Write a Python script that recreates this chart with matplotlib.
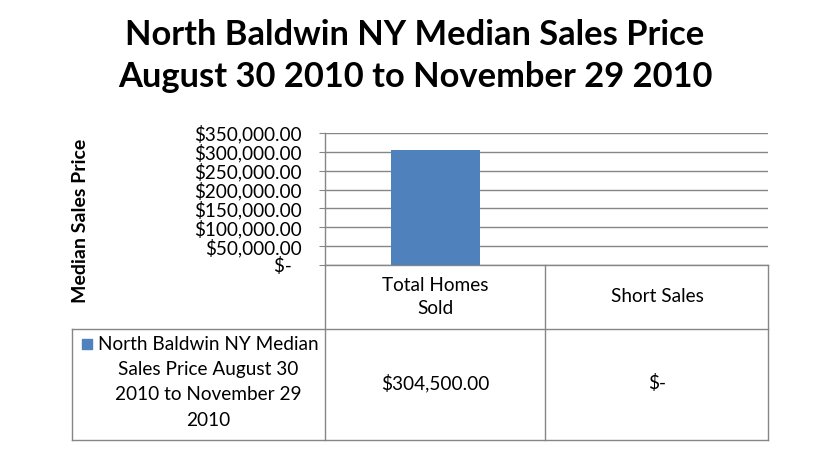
import numpy as np
import matplotlib.pyplot as plt
from matplotlib.ticker import FuncFormatter

plt.rcParams['font.family'] = ['Lato', 'DejaVu Sans']

title = "North Baldwin NY Median Sales Price\nAugust 30 2010 to November 29 2010"
series_name = ["North Baldwin NY Median", "Sales Price August 30", "2010 to November 29", "2010"]
categories = ["Total Homes\nSold", "Short Sales"]
values = [304500.0, 0.0]
y_ticks = [0, 50000, 100000, 150000, 200000, 250000, 300000, 350000]

W, H = 830, 451
grid_col = "#868686"
bar_col = "#4F81BD"
fs = 13.7


def money(v):
    if v == 0:
        return "$-  "
    return "${:,.2f}".format(v)


fig = plt.figure(figsize=(W / 100, H / 100), dpi=100)
fig.patch.set_facecolor("white")

# canvas in pixel coordinates for titles and the data table
bg = fig.add_axes([0, 0, 1, 1], zorder=0)
bg.set_xlim(0, W)
bg.set_ylim(H, 0)
bg.axis("off")

# table lines
lw = 1.0
bg.plot([72, 768], [329, 329], color=grid_col, lw=lw)
bg.plot([72, 768], [440, 440], color=grid_col, lw=lw)
bg.plot([72, 72], [329, 440], color=grid_col, lw=lw)
bg.plot([325, 325], [265, 440], color=grid_col, lw=lw)
bg.plot([545, 545], [265, 440], color=grid_col, lw=lw)
bg.plot([768, 768], [265, 440], color=grid_col, lw=lw)

# title and axis title
bg.text(415, 56, title, ha="center", va="center", fontsize=24.8, fontweight="bold",
        linespacing=1.38)
bg.text(80, 221, "Median Sales Price", rotation=90, ha="center", va="center",
        fontsize=14, fontweight="bold")

# table contents
col_x = [435, 657]
for cx, cat, v in zip(col_x, categories, values):
    bg.text(cx, 297, cat, ha="center", va="center", fontsize=fs, linespacing=1.45)
    bg.text(cx, 383, money(v).strip(), ha="center", va="center", fontsize=fs)

row_y = [344, 369, 395, 420]
for ly, line in zip(row_y, series_name):
    bg.text(208, ly, line, ha="center", va="center", fontsize=fs)
bg.scatter([87], [344], marker="s", s=60, color=bar_col)

# bar chart
ax = fig.add_axes([325 / W, (H - 265) / H, (768 - 325) / W, (265 - 133) / H], zorder=2)
ax.patch.set_alpha(0)
ax.bar(np.arange(len(values)), values, width=0.4, color=bar_col, zorder=3)
ax.set_xlim(-0.5, len(values) - 0.5)
ax.set_ylim(0, 350000)
ax.set_yticks(y_ticks)
ax.yaxis.set_major_formatter(FuncFormatter(lambda v, p: money(v)))
ax.set_xticks([])
ax.grid(axis="y", color=grid_col, lw=lw, zorder=1)
for s in ["top", "right"]:
    ax.spines[s].set_visible(False)
for s in ["left", "bottom"]:
    ax.spines[s].set_color(grid_col)
    ax.spines[s].set_linewidth(lw)
ax.tick_params(axis="y", length=4, color=grid_col, pad=13, labelsize=13.6)

fig.savefig("out.png", dpi=100)
